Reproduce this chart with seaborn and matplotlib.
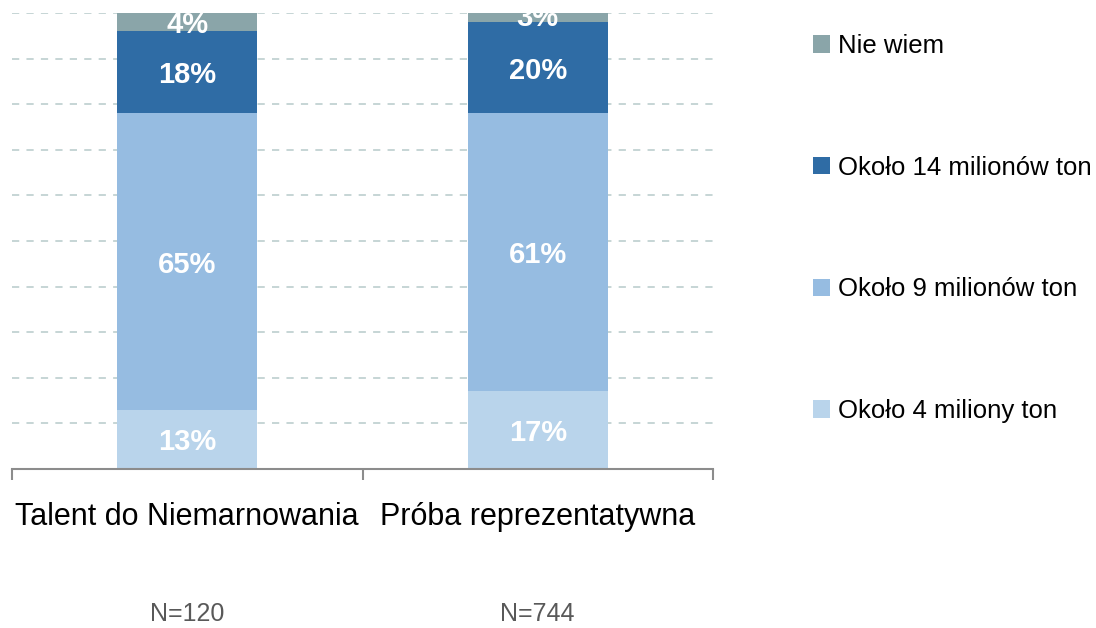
import matplotlib
matplotlib.use("Agg")
import matplotlib.pyplot as plt
import matplotlib.transforms as mtransforms
from matplotlib.patches import Patch
import seaborn as sns
import numpy as np

categories = ["Talent do Niemarnowania", "Próba reprezentatywna"]
sample_sizes = ["N=120", "N=744"]
series_names = ["Około 4 miliony ton", "Około 9 milionów ton", "Około 14 milionów ton", "Nie wiem"]
v_4mln = [13, 17]
v_9mln = [65, 61]
v_14mln = [18, 20]
v_niewiem = [4, 3]
series_values = [v_4mln, v_9mln, v_14mln, v_niewiem]
colors = ["#b9d4eb", "#96bce1", "#2f6ca5", "#8aa5a9"]

sns.set_theme(style="white")
plt.rcParams['font.family'] = ['Liberation Sans', 'DejaVu Sans']

fig = plt.figure(figsize=(10.96, 6.28), dpi=100)
ax = fig.add_axes([12/1096, 159/628, (713-12)/1096, 456/628])

bottom = np.zeros(len(categories))
for name, vals, col in zip(series_names, series_values, colors):
    sns.barplot(x=categories, y=vals, bottom=bottom, color=col, width=0.4,
                saturation=1, ax=ax, linewidth=0)
    for i, v in enumerate(vals):
        ax.text(i, bottom[i] + v / 2, f"{v}%", ha="center", va="center_baseline",
                color="white", fontsize=21, fontweight="bold", clip_on=True)
    bottom = bottom + np.array(vals)

ax.set_ylim(0, 100)
ax.set_xlim(-0.5, 1.5)
ax.set_yticks([])
for y in range(10, 101, 10):
    ax.axhline(y, color="#c2d2d2", linestyle=(0, (4, 4)), linewidth=1.3, zorder=0)

for s in ["top", "right", "left"]:
    ax.spines[s].set_visible(False)
ax.spines["bottom"].set_color("#8c8c8c")
ax.spines["bottom"].set_linewidth(1.5)

ax.set_xticks(range(len(categories)))
ax.set_xticklabels(categories, fontsize=22, color="black")
ax.tick_params(axis="x", which="major", length=0, pad=24)
ax.set_xticks([-0.5, 0.5, 1.5], minor=True)
ax.tick_params(axis="x", which="minor", length=8, width=1.5, color="#8c8c8c", bottom=True)
ax.set_xlabel("")

trans = mtransforms.blended_transform_factory(ax.transData, ax.transAxes)
for i, n in enumerate(sample_sizes):
    ax.text(i, -0.318, n, transform=trans, ha="center", va="center",
            fontsize=18, color="#595959")

handles = [Patch(facecolor=c, edgecolor="none") for c in colors[::-1]]
leg = fig.legend(handles, series_names[::-1], loc="upper left",
                 bbox_to_anchor=(813/1096, 1 - 34/628), frameon=False,
                 fontsize=18.5, handlelength=0.66, handleheight=0.66,
                 handletextpad=0.3, labelspacing=3.8, borderpad=0, borderaxespad=0,
                 labelcolor="black")

fig.savefig("out.png", dpi=100)
